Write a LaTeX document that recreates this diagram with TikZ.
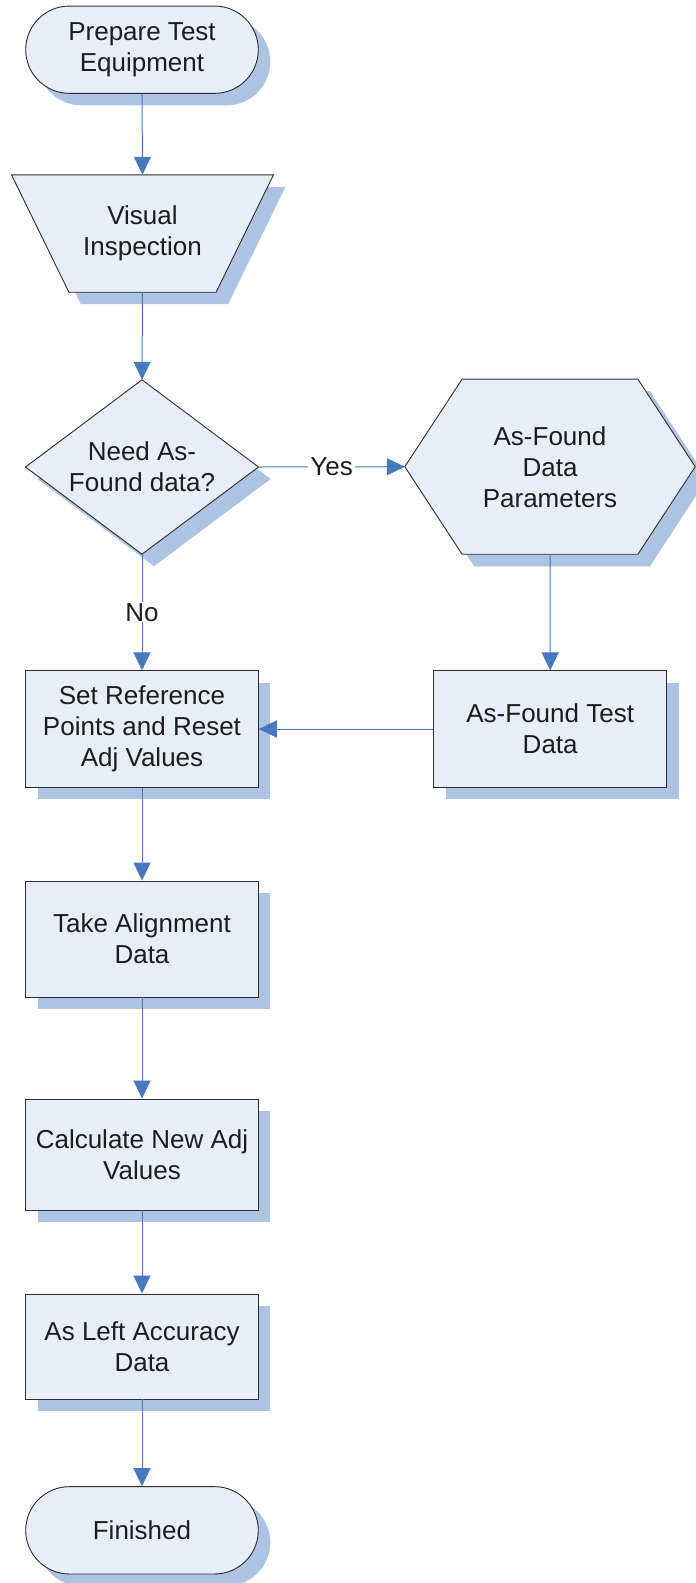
\documentclass[tikz,border=0pt]{standalone}
\usepackage{fontspec}
\setmainfont{Liberation Sans}
\usetikzlibrary{shapes.misc,shadows,arrows.meta,calc}
\pgfdeclarelayer{bg}
\pgfsetlayers{bg,main}
\definecolor{fillc}{RGB}{232,238,247}
\definecolor{shadc}{RGB}{174,195,226}
\definecolor{linec}{RGB}{45,45,45}
\definecolor{arrc}{RGB}{72,120,190}
\definecolor{textc}{RGB}{30,28,30}
\tikzset{
  txt/.style={align=center, font=\fontsize{26}{31}\selectfont, text=textc, inner sep=0pt},
  shp/.style={fill=fillc, draw=linec, line width=0.9pt, line join=miter},
  shd/.style={fill=shadc, transform canvas={shift={(12pt,-12pt)}}},
  boxsh/.style={txt, shp, general shadow={fill=shadc, shadow xshift=12pt, shadow yshift=-12pt}},
  procbox/.style={boxsh, rectangle, minimum width=232.6pt},
  termbox/.style={boxsh, rounded rectangle, minimum width=232.6pt, minimum height=87.3pt},
  conn/.style={draw=arrc, line width=1pt, -{Triangle[length=18pt,width=17pt]}},
  lbl/.style={txt, fill=white, inner xsep=2pt, inner ysep=1pt},
}
\begin{document}
\begin{tikzpicture}[x=1pt,y=-1pt]
\useasboundingbox (0,0) rectangle (696,1583);
\begin{pgfonlayer}{bg}
  \fill[white] (0,0) rectangle (696,1583);
\end{pgfonlayer}

% terminal start
\node[termbox] (start) at (142,49.7) {Prepare Test\\Equipment};

% manual input (trapezoid)
\node[txt, minimum width=261.6pt, minimum height=117pt] (vis) at (142.5,233.5) {Visual\\Inspection};
% decision
\node[txt, minimum width=232.6pt, minimum height=174pt] (dia) at (142,467) {Need As-\\Found data?};
% preparation (hexagon)
\node[txt, minimum width=290pt, minimum height=174.7pt] (hex) at (550,466.7) {As-Found\\Data\\Parameters};

\begin{pgfonlayer}{bg}
  \fill[shd] (vis.north west) -- (vis.north east) -- ([xshift=-57.4pt]vis.south east) -- ([xshift=57.4pt]vis.south west) -- cycle;
  \path[shp] (vis.north west) -- (vis.north east) -- ([xshift=-57.4pt]vis.south east) -- ([xshift=57.4pt]vis.south west) -- cycle;
  \fill[shd] (dia.north) -- (dia.east) -- (dia.south) -- (dia.west) -- cycle;
  \path[shp] (dia.north) -- (dia.east) -- (dia.south) -- (dia.west) -- cycle;
  \fill[shd] (hex.west) -- ([xshift=57.3pt]hex.north west) -- ([xshift=-57.3pt]hex.north east) -- (hex.east) -- ([xshift=-57.3pt]hex.south east) -- ([xshift=57.3pt]hex.south west) -- cycle;
  \path[shp] (hex.west) -- ([xshift=57.3pt]hex.north west) -- ([xshift=-57.3pt]hex.north east) -- (hex.east) -- ([xshift=-57.3pt]hex.south east) -- ([xshift=57.3pt]hex.south west) -- cycle;
\end{pgfonlayer}

% process boxes
\node[procbox, minimum height=116.3pt] (set) at (142,729) {Set Reference\\Points and Reset\\Adj Values};
\node[procbox, minimum width=233pt, minimum height=116.3pt] (aft) at (550.2,729) {As-Found Test\\Data};
\node[procbox, minimum height=116pt] (take) at (142,939) {Take Alignment\\Data};
\node[procbox, minimum height=111pt] (calc) at (142,1154.5) {Calculate New Adj\\Values};
\node[procbox, minimum height=105pt] (left) at (142,1346.5) {As Left Accuracy\\Data};
\node[termbox] (fin) at (142,1530.3) {Finished};

% connectors
\draw[conn] (start.south) -- (vis.north);
\draw[conn] (vis.south) -- (dia.north);
\draw[conn] (dia.east) -- node[lbl] {Yes} (hex.west);
\draw[conn] (dia.south) -- node[lbl] {No} (set.north);
\draw[conn] (hex.south) -- (aft.north);
\draw[conn] (aft.west) -- (set.east);
\draw[conn] (set.south) -- (take.north);
\draw[conn] (take.south) -- (calc.north);
\draw[conn] (calc.south) -- (left.north);
\draw[conn] (left.south) -- (fin.north);
\end{tikzpicture}
\end{document}
